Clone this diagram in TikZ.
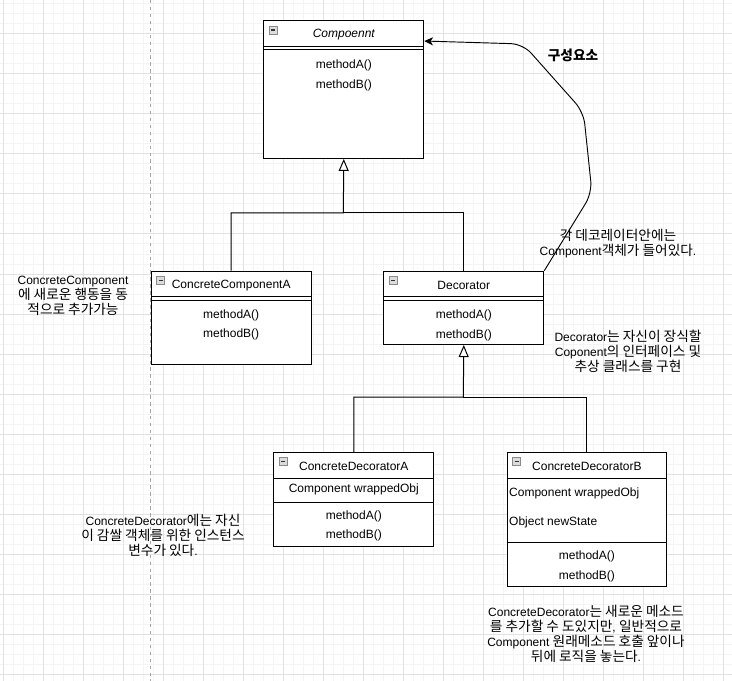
\documentclass[tikz,border=0pt]{standalone}
\usepackage{fontspec}
\setmainfont{Liberation Sans}
\newfontfamily\krfont[Scale=1.14]{Noto Sans CJK KR}
\usetikzlibrary{arrows.meta,calc}
\newcommand\kr[1]{{\krfont #1}}
\definecolor{gminor}{HTML}{F4F4F4}
\definecolor{gmajor}{HTML}{E2E2E2}
\definecolor{iconfill}{HTML}{DCDCDC}
\definecolor{iconline}{HTML}{8A8A8A}
\begin{document}
\begin{tikzpicture}[x=0.75pt,y=-0.75pt,
  font=\fontsize{9}{11.25}\selectfont,
  line width=0.75pt,
  cls/.style={draw=black, fill=white, inner sep=0pt, anchor=north west, minimum width=120pt},
  txt/.style={inner sep=0pt, align=center},
  sep/.style={draw=black, line width=0.75pt},
  inh/.style={draw=black, -{Triangle[open, length=9pt, width=7.5pt, fill=white]}},
  iconbox/.style={draw=iconline, fill=iconfill, line width=0.6pt},
  icondash/.style={draw=black!80, line width=0.8pt}
]
% background and grid
\fill[white] (0,0) rectangle (732,681);
\useasboundingbox (0,0) rectangle (732,681);
\foreach \x in {3,13,...,723} \draw[gminor, line width=0.75pt] (\x,0) -- (\x,681);
\foreach \y in {4,14,...,674} \draw[gminor, line width=0.75pt] (0,\y) -- (732,\y);
\foreach \x in {3,43,...,723} \draw[gmajor, line width=0.75pt] (\x,0) -- (\x,681);
\foreach \y in {34,74,...,674} \draw[gmajor, line width=0.75pt] (0,\y) -- (732,\y);
\draw[gray!70, line width=0.75pt, dash pattern=on 2.6pt off 2.6pt] (150.5,0) -- (150.5,681);

% class boxes
\node[cls, minimum height=103.1pt] (comp) at (263.3,20.5) {};
\node[cls, minimum height=70pt] (cca) at (150.7,270.7) {};
\node[cls, minimum height=55pt] (dec) at (383.3,270.7) {};
\node[cls, minimum height=70pt] (cda) at (273.3,452.3) {};
\node[cls, minimum height=100pt, minimum width=119.5pt] (cdb) at (506.7,452.3) {};

% separators
\foreach \b/\a/\m in {comp/26/29.5, cca/26/29.5, dec/25.5/29.5} {
  \draw[sep] ($(\b.north west)+(0,\a)$) -- ($(\b.north east)+(0,\a)$);
  \draw[sep] ($(\b.north west)+(0,\m)$) -- ($(\b.north east)+(0,\m)$);
}
\draw[sep] ($(cda.north west)+(0,26)$) -- ($(cda.north east)+(0,26)$);
\draw[sep] ($(cda.north west)+(0,50)$) -- ($(cda.north east)+(0,50)$);
\draw[sep] ($(cdb.north west)+(0,26)$) -- ($(cdb.north east)+(0,26)$);
\draw[sep] ($(cdb.north west)+(0,90)$) -- ($(cdb.north east)+(0,90)$);

% collapse icons
\foreach \b in {comp,cca,dec,cda,cdb} {
  \draw[iconbox] ($(\b.north west)+(6,5.5)$) rectangle ($(\b.north west)+(14,13.5)$);
  \draw[icondash] ($(\b.north west)+(8,9.5)$) -- ($(\b.north west)+(12,9.5)$);
}

% titles
\node[txt, font=\fontsize{9}{11.25}\selectfont\itshape] (compT) at ($(comp.north)+(0,14.5)$) {Compoennt};
\node[txt] (ccaT) at ($(cca.north)+(0,14.5)$) {ConcreteComponentA};
\node[txt] (decT) at ($(dec.north)+(0,14.5)$) {Decorator};
\node[txt] (cdaT) at ($(cda.north)+(0,14.5)$) {ConcreteDecoratorA};
\node[txt] (cdbT) at ($(cdb.north)+(0,14.5)$) {ConcreteDecoratorB};

% attributes
\node[txt] (cdaAt) at ($(cda.north)+(0,37)$) {Component wrappedObj};
\node[txt, anchor=west] (cdbAt1) at ($(cdb.north west)+(2,41)$) {Component wrappedObj};
\node[txt, anchor=west] (cdbAt2) at ($(cdb.north west)+(2,70.5)$) {Object newState};

% methods
\foreach \b/\p/\q in {comp/44.5/64.5, cca/44.5/63.5, dec/44.5/64.5, cda/64.5/83, cdb/104.5/124.5} {
  \node[txt] (\b MA) at ($(\b.north)+(0,\p)$) {methodA()};
  \node[txt] (\b MB) at ($(\b.north)+(0,\q)$) {methodB()};
}

% inheritance connectors
\coordinate (j1) at (343.3,213);
\draw[black] (dec.north) |- (j1);
\draw[inh] (cca.north) |- (j1) -- (comp.south);
\coordinate (j2) at (463.3,397);
\draw[black] (cdb.north) |- (j2);
\draw[inh] (cda.north) |- (j2) -- (dec.south);

% composition connector
\coordinate (c1) at (592,193);
\coordinate (c2) at (583.5,112);
\coordinate (c3) at (523,44);
\draw[black, line width=0.7pt, rounded corners=9pt, -{Stealth[length=6.5pt, width=6pt, inset=1.8pt]}]
  (dec.north east) -- (c1) -- (c2) -- (c3) -- ([yshift=-15.4pt]comp.north east);

% labels
\node[txt, font=\fontsize{9}{11.25}\selectfont\bfseries] (lblComp) at (573,55.5) {{\krfont\bfseries 구성요소}};
\node[txt] (lbl1) at (73,295.5) {ConcreteComponent\\\kr{에 새로운 행동을 동}\\\kr{적으로 추가가능}};
\node[txt] (lbl2) at (618,243.5) {\kr{각 데코레이터안에는}\\Component\kr{객체가 들어있다}.};
\node[txt] (lbl3) at (628,351.7) {Decorator\kr{는 자신이 장식할}\\Coponent\kr{의 인터페이스 및}\\\kr{추상 클래스를 구현}};
\node[txt] (lbl4) at (163,535.3) {ConcreteDecorator\kr{에는 자신}\\\kr{이 감쌀 객체를 위한 인스턴스}\\\kr{변수가 있다}.};
\node[txt] (lbl5) at (586,634) {ConcreteDecorator\kr{는 새로운 메소드}\\\kr{를 추가할 수 도있지만}, \kr{일반적으로}\\Component \kr{원래메소드 호출 앞이나}\\\kr{뒤에 로직을 놓는다}.};
\end{tikzpicture}
\end{document}
